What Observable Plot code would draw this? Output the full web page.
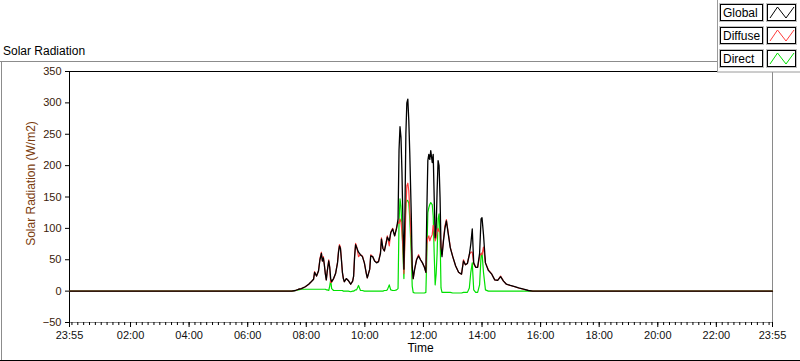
<!DOCTYPE html>
<html><head><meta charset="utf-8">
<script src="https://cdn.jsdelivr.net/npm/d3@7"></script>
<script src="https://cdn.jsdelivr.net/npm/@observablehq/plot@0.6"></script>
<style>html,body{margin:0;padding:0;background:#fff;} svg{display:block;}</style>
</head><body><div id="chart"></div>
<script>
// ---- data ----
const times = [
 "23:55","07:30","07:38","07:44","07:50","07:58","08:05","08:09","08:15","08:17",
 "08:21","08:25","08:28","08:31","08:33","08:35","08:37","08:39","08:41","08:43",
 "08:46","08:48","08:50","08:52","08:56","09:00","09:04","09:06","09:08","09:10",
 "09:12","09:14","09:16","09:18","09:22","09:26","09:31","09:35","09:37","09:39",
 "09:41","09:43","09:47","09:51","09:55","09:59","10:03","10:05","10:10","10:12",
 "10:16","10:20","10:24","10:28","10:32","10:34","10:37","10:40","10:44","10:46",
 "10:50","10:53","10:57","11:01","11:05","11:08","11:10","11:12","11:14","11:16",
 "11:18","11:20","11:22","11:24","11:26","11:28","11:30","11:32","11:35","11:37",
 "11:39","11:42","11:46","11:50","11:54","11:58","12:02","12:05","12:07","12:09",
 "12:11","12:13","12:15","12:18","12:20","12:22","12:24","12:26","12:28","12:30",
 "12:32","12:34","12:36","12:38","12:41","12:44","12:47","12:51","12:55","13:00",
 "13:06","13:12","13:18","13:22","13:26","13:30","13:34","13:37","13:40","13:43",
 "13:47","13:51","13:55","13:58","14:00","14:03","14:07","14:13","14:20","14:26",
 "14:32","14:38","14:44","14:50","14:58","15:07","15:15","15:25","15:35","15:44",
 "23:55"
];
const globalW = [
 0,0,1,3,4,7,11,14,19,30,
 24,32,50,60,48,53,42,28,18,32,
 48,38,20,15,20,28,45,62,72,68,
 50,30,20,15,20,17,11,16,24,55,
 74,70,62,58,55,45,28,21,35,56,
 55,48,45,47,60,83,68,64,78,86,
 80,93,99,88,100,115,225,262,245,190,
 110,35,120,250,300,306,272,220,125,40,
 20,35,50,56,50,45,38,30,130,208,
 218,210,224,205,218,150,85,99,160,208,
 200,150,70,55,80,100,112,90,69,55,
 40,30,27,48,42,44,58,75,99,45,
 38,38,60,115,117,90,45,33,27,18,
 17,23,16,11,9,7,5,3,1,0,
 0
];
const diffuseW = [
 0,0,1,3,4,7,11,14,19,31,
 24,32,52,62,48,55,42,28,18,32,
 50,38,14,14,20,28,46,64,74,70,
 50,30,20,15,20,17,11,16,24,56,
 76,72,55,58,56,45,28,21,35,58,
 55,48,46,47,62,85,68,64,80,88,
 72,94,100,88,102,110,108,115,110,95,
 70,28,75,130,168,172,160,130,80,35,
 20,35,51,58,50,45,38,30,75,85,
 88,80,85,90,105,95,80,85,95,100,
 95,95,70,58,82,104,114,92,70,55,
 40,30,27,50,42,44,58,62,62,43,
 38,38,55,60,58,70,45,34,27,18,
 17,24,16,11,9,7,5,3,1,0,
 0
];
const directW = [
 0,0,1,2,3,3,3,3,3,3,
 3,3,3,3,3,3,3,3,2,2,
 1,8,18,4,1,1,1,1,1,1,
 1,1,0,0,0,0,-1,0,0,1,
 2,2,9,1,1,0,0,0,0,0,
 0,0,0,0,0,0,0,1,1,2,
 10,2,1,1,2,4,110,147,135,100,
 60,20,100,140,145,144,140,115,60,8,
 -2,-3,-3,-3,-3,-3,-3,-2,60,125,
 133,138,141,138,120,60,10,27,60,115,
 123,90,5,-2,-2,-2,-2,-2,-2,-3,
 -3,-3,-3,-2,-2,-2,5,30,45,2,
 -2,-2,10,55,61,30,2,0,0,0,
 0,0,0,0,0,0,0,0,0,0,
 0
];
const seriesNames = ["Global", "Diffuse", "Direct"];
const seriesColors = ["#000000", "#ff3c3c", "#00e000"];
const xTickLabels = ["23:55","02:00","04:00","06:00","08:00","10:00","12:00","14:00","16:00","18:00","20:00","22:00","23:55"];
const yTicks = [-50, 0, 50, 100, 150, 200, 250, 300, 350];

// ---- helpers ----
const DAY = Date.UTC(2000, 0, 1);
function toDate(s, i) {
  const [h, m] = s.split(":").map(Number);
  let min = h * 60 + m;
  if (i === 0 && min > 720) min -= 1440; // first point belongs to the previous day
  return new Date(DAY + min * 60000);
}
const rows = times.map((t, i) => ({time: toDate(t, i), Global: globalW[i], Diffuse: diffuseW[i], Direct: directW[i]}));
const majorDates = xTickLabels.map((t, i) => toDate(t, i));
const start = majorDates[0], end = majorDates[majorDates.length - 1];
const minorDates = d3.utcMinute.every(12).range(new Date(DAY), end);
const fmt = d3.utcFormat("%H:%M");
const FONT = "'Liberation Sans', Arial, sans-serif";

const chart = Plot.plot({
  width: 800, height: 361,
  marginLeft: 69, marginRight: 28, marginTop: 71, marginBottom: 39,
  style: {fontFamily: FONT, fontSize: "11px", background: "#fff", color: "#000"},
  x: {type: "utc", domain: [start, end]},
  y: {domain: [-50, 350]},
  marks: [
    Plot.frame({stroke: "#8a8a8a"}),
    Plot.axisX({ticks: minorDates, tickSize: 3, tickFormat: () => "", label: null}),
    Plot.axisX({ticks: majorDates, tickSize: 5, tickPadding: 4, tickFormat: fmt, label: null, fill: "#111"}),
    Plot.axisY({ticks: yTicks, tickSize: 4, tickPadding: 4, label: null, fill: "#3a200a"}),
    Plot.ruleY([350], {stroke: "#000"}),
    Plot.ruleX([start], {stroke: "#000"}),
    Plot.line(rows, {x: "time", y: seriesNames[2], stroke: seriesColors[2], strokeWidth: 1.2}),
    Plot.line(rows, {x: "time", y: seriesNames[1], stroke: seriesColors[1], strokeWidth: 1.2}),
    Plot.line(rows, {x: "time", y: seriesNames[0], stroke: seriesColors[0], strokeWidth: 1.3})
  ]
});
document.getElementById("chart").appendChild(chart);

// ---- decorations: outer frame, titles, legend ----
const svg = d3.select(chart);
const deco = svg.append("g").attr("text-anchor", "start");
deco.append("line").attr("x1", 0).attr("x2", 717).attr("y1", 61.5).attr("y2", 61.5).attr("stroke", "#8c8c8c");
deco.append("line").attr("x1", 1.5).attr("x2", 1.5).attr("y1", 61.5).attr("y2", 361).attr("stroke", "#8c8c8c");
deco.append("line").attr("x1", 0).attr("x2", 800).attr("y1", 360.5).attr("y2", 360.5).attr("stroke", "#000");

deco.append("text").attr("x", 3).attr("y", 55).attr("text-anchor", "start").attr("font-size", 12).attr("font-family", FONT).attr("fill", "#000").text("Solar Radiation");
deco.append("text").attr("x", 420.5).attr("y", 352).attr("text-anchor", "middle").attr("font-size", 12).attr("font-family", FONT).attr("fill", "#000").text("Time");
deco.append("text").attr("transform", "translate(35,183.5) rotate(-90)").attr("text-anchor", "middle").attr("font-size", 12).attr("font-family", FONT).attr("fill", "#7a3b0c").text("Solar Radiation (W/m2)");

const leg = svg.append("g").attr("text-anchor", "start");
leg.append("rect").attr("x", 717.5).attr("y", -2).attr("width", 90).attr("height", 74).attr("fill", "#fff").attr("stroke", "#9a9a9a");
seriesNames.forEach((name, i) => {
  const y0 = 4 + i * 23;
  leg.append("rect").attr("x", 719.5).attr("y", y0 - 0.5).attr("width", 44).attr("height", 18).attr("fill", "none").attr("stroke", "#c0c0c0");
  leg.append("rect").attr("x", 720.5).attr("y", y0 + 0.5).attr("width", 42).attr("height", 16).attr("fill", "#fff").attr("stroke", "#000");
  leg.append("text").attr("x", 723).attr("y", y0 + 13).attr("text-anchor", "start").attr("font-size", 12).attr("font-family", FONT).attr("fill", "#000").text(name);
  leg.append("rect").attr("x", 766.5).attr("y", y0 - 0.5).attr("width", 30).attr("height", 18).attr("fill", "none").attr("stroke", "#c0c0c0");
  leg.append("rect").attr("x", 767.5).attr("y", y0 + 0.5).attr("width", 28).attr("height", 16).attr("fill", "#fff").attr("stroke", "#000");
  leg.append("polyline").attr("points", `770,${y0 + 14} 777.5,${y0 + 3} 786,${y0 + 14} 794,${y0 + 3}`).attr("fill", "none").attr("stroke", seriesColors[i]).attr("stroke-width", 1);
});
</script>
</body></html>
